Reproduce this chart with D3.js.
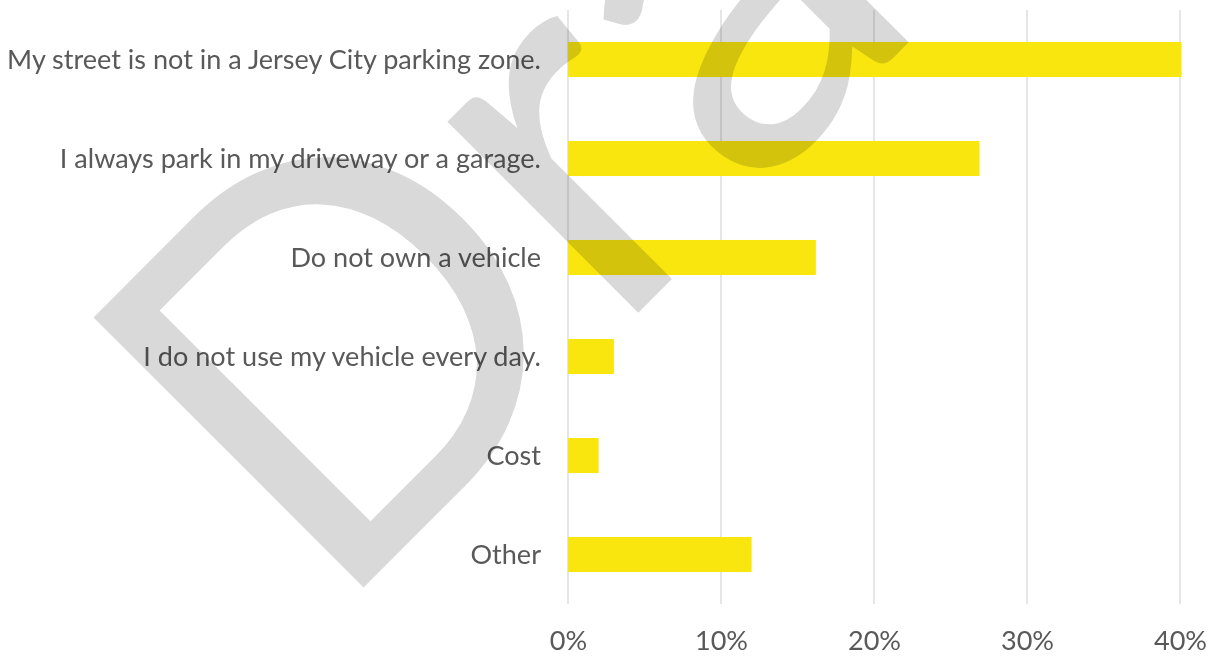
<!DOCTYPE html>
<html>
<head>
<meta charset="utf-8">
<script src="https://cdn.jsdelivr.net/npm/d3@7"></script>
<style>
  html, body { margin: 0; padding: 0; background: #fff; }
  svg { display: block; }
</style>
</head>
<body>
<div id="chart"></div>
<script>
// reasons given (share of respondents)
const categories = [
  "My street is not in a Jersey City parking zone.",
  "I always park in my driveway or a garage.",
  "Do not own a vehicle",
  "I do not use my vehicle every day.",
  "Cost",
  "Other"
];
const shares = [0.401, 0.269, 0.162, 0.030, 0.020, 0.120];
const ticks = [0, 0.1, 0.2, 0.3, 0.4];
const watermark = "Draft";

const W = 1217, H = 656;
const fontFamily = "Lato, 'Noto Sans', sans-serif";

const dataset = categories.map((c, i) => ({ name: c, value: shares[i] }));

const svg = d3.select("#chart")
  .append("svg")
  .attr("width", W)
  .attr("height", H);

const x = d3.scaleLinear()
  .domain([0, 0.4])
  .range([568, 1180]);

const y = d3.scaleBand()
  .domain(categories)
  .range([10, 604])
  .paddingInner(0.646)
  .paddingOuter(0.323);

// vertical gridlines
svg.append("g")
  .selectAll("line")
  .data(ticks)
  .enter()
  .append("line")
  .attr("x1", d => x(d))
  .attr("x2", d => x(d))
  .attr("y1", 10)
  .attr("y2", 604)
  .attr("stroke", "#d9d9d9")
  .attr("stroke-width", 1.3);

// bars
svg.selectAll(".bar")
  .data(dataset)
  .enter()
  .append("rect")
  .attr("class", "bar")
  .attr("x", x(0))
  .attr("y", d => y(d.name))
  .attr("width", d => x(d.value) - x(0))
  .attr("height", y.bandwidth())
  .attr("fill", "#f9e60f");

// category labels
const labels = svg.append("g")
  .selectAll("text")
  .data(dataset)
  .enter()
  .append("text")
  .attr("x", 541)
  .attr("y", d => y(d.name) + y.bandwidth() / 2 + 9)
  .attr("text-anchor", "end")
  .style("font-family", fontFamily)
  .style("font-size", "26px")
  .style("fill", "#595959")
  .text(d => d.name);

// fit font size so the longest label spans like the original
const longest = labels.nodes()[0].getComputedTextLength();
const fitSize = 26 * 534 / longest;
labels.style("font-size", fitSize + "px");

// x axis tick labels
svg.append("g")
  .attr("transform", "translate(0, 650)")
  .call(d3.axisBottom(x).tickValues(ticks).tickFormat(d3.format(".0%")).tickSize(0).tickPadding(0))
  .call(g => g.select(".domain").remove())
  .selectAll("text")
  .attr("dy", 0)
  .attr("y", 0)
  .style("font-family", fontFamily)
  .style("font-size", fitSize + "px")
  .style("fill", "#595959");

// watermark
svg.append("text")
  .attr("transform", "translate(363, 588) rotate(-45)")
  .attr("x", -48)
  .attr("y", 0)
  .style("font-family", fontFamily)
  .style("font-size", "533px")
  .style("fill", "#d9d9d9")
  .style("mix-blend-mode", "multiply")
  .text(watermark);
</script>
</body>
</html>
